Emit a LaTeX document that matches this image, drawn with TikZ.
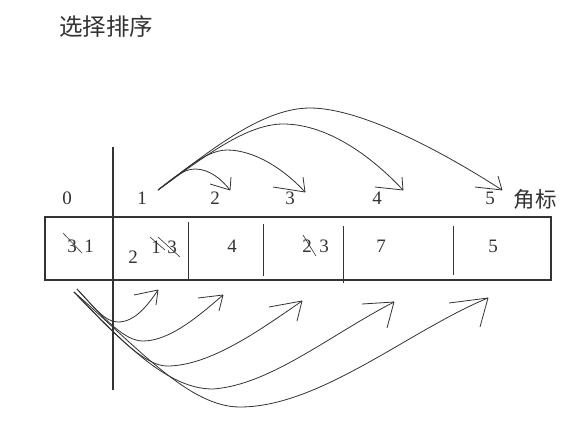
\documentclass[tikz,border=0pt]{standalone}
\usepackage{fontspec}
\setmainfont{Liberation Serif}
\newfontfamily\cjkfont{Noto Sans CJK SC}
\begin{document}
\begin{tikzpicture}[x=1pt,y=-1pt,
  ink/.style={draw=black!80,line width=0.8pt},
  num/.style={text=black!80,font=\fontsize{19}{19}\selectfont,inner sep=0pt},
  cjk/.style={text=black!80,inner sep=0pt}]
\useasboundingbox[fill=white] (0,0) rectangle (580,445);
% title
\node[cjk,font=\cjkfont\fontsize{23.5}{23.5}\selectfont] (title) at (106,27) {选择排序};
% index labels
\node[num] (i0) at (67,198) {0};
\node[num] (i1) at (142,198) {1};
\node[num] (i2) at (215,198) {2};
\node[num] (i3) at (290,198) {3};
\node[num] (i4) at (377,198) {4};
\node[num] (i5) at (490,198) {5};
\node[cjk,font=\cjkfont\fontsize{21.5}{21.5}\selectfont] (jb) at (535,199) {角标};
% array
\draw[ink,line width=1.1pt] (45,217) rectangle (551,280);
\draw[ink,line width=1.4pt] (113,147) -- (113,390);
\draw[ink,line width=1pt] (188,222) -- (188,280);
\draw[ink,line width=1pt] (263,224) -- (263,276);
\draw[ink,line width=1pt] (343,226) -- (343,283);
\draw[ink,line width=1pt] (453,226) -- (453,275);
% cell contents
\node[num] (c0a) at (72,246) {3};
\node[num] (c0b) at (89,246) {1};
\draw[ink,line width=0.6pt] (63,233) -- (82,253);
\node[num] (c1a) at (133,257) {2};
\node[num] (c1b) at (156,247) {1};
\node[num] (c1c) at (172,247) {3};
\draw[ink,line width=0.6pt] (150,237) -- (165,250);
\draw[ink,line width=0.6pt] (158,237) -- (180,257);
\node[num] (c2) at (232,246) {4};
\node[num] (c3a) at (307,246) {2};
\node[num] (c3b) at (324,246) {3};
\draw[ink,line width=0.6pt] (303,235) -- (316,256);
\node[num] (c4) at (381,246) {7};
\node[num] (c5) at (493,246) {5};
% top arcs
\coordinate (s) at (158,190);
\coordinate (t2) at (230,190);
\coordinate (t3) at (305,192);
\coordinate (t4) at (403,190);
\coordinate (t5) at (502,190);
\draw[ink] (s) .. controls (172,179) and (183,169) .. (195,169) .. controls (210,169) and (222,180) .. (t2);
\draw[ink] (s) .. controls (180,174) and (205,150) .. (227,150) .. controls (255,150) and (285,170) .. (t3);
\draw[ink] (s) .. controls (200,160) and (245,124) .. (283,124) .. controls (330,124) and (375,160) .. (t4);
\draw[ink] (s) .. controls (205,155) and (260,108) .. (310,108) .. controls (360,108) and (440,150) .. (t5);
\draw[ink] (t2) -- (231,177) (t2) -- (210,184);
\draw[ink] (t3) -- (303,177) (t3) -- (273,187);
\draw[ink] (t4) -- (402,177) (t4) -- (375,187);
\draw[ink] (t5) -- (498,176) (t5) -- (475,187);
% bottom arcs
\coordinate (b0) at (77,289);
\coordinate (b0b) at (74,292);
\coordinate (u1) at (158,290);
\coordinate (u2) at (223,295);
\coordinate (u3) at (302,301);
\coordinate (u4) at (394,302);
\coordinate (u5) at (488,298);
\draw[ink] (b0) .. controls (95,308) and (105,322) .. (118,322) .. controls (135,322) and (148,305) .. (u1);
\draw[ink] (b0) .. controls (105,320) and (125,341) .. (143,341) .. controls (170,341) and (200,315) .. (u2);
\draw[ink] (b0b) .. controls (115,335) and (145,366) .. (167,366) .. controls (210,366) and (260,330) .. (u3);
\draw[ink] (b0b) .. controls (130,350) and (170,389) .. (213,389) .. controls (270,385) and (330,335) .. (u4);
\draw[ink] (b0b) .. controls (140,350) and (190,407) .. (240,407) .. controls (320,407) and (410,330) .. (u5);
\draw[ink] (u1) -- (134,295) (u1) -- (156,305);
\draw[ink] (u2) -- (198,298) (u2) -- (219,311);
\draw[ink] (u3) -- (269,307) (u3) -- (297,321);
\draw[ink] (u4) -- (362,304) (u4) -- (387,328);
\draw[ink] (u5) -- (449,303) (u5) -- (480,327);
\end{tikzpicture}
\end{document}
